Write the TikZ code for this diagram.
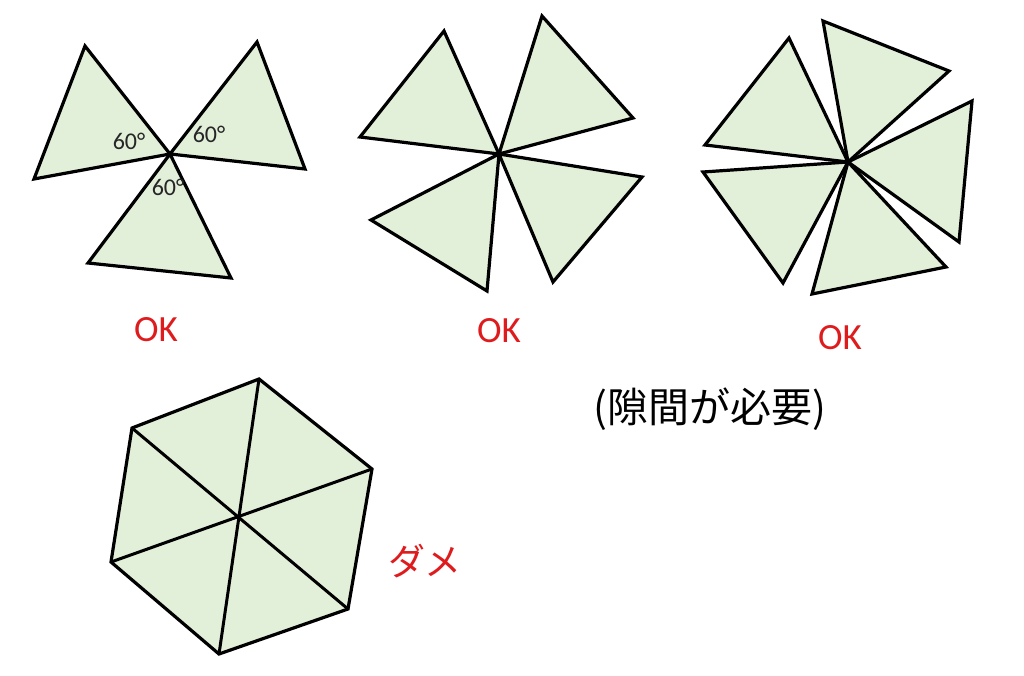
\documentclass[tikz,border=0pt]{standalone}
\usepackage{fontspec}
\setmainfont{Carlito}
\newfontfamily\jpfont{Noto Sans CJK JP}
\definecolor{tri}{HTML}{E2EFD9}
\definecolor{okred}{RGB}{222,28,30}
\begin{document}
\begin{tikzpicture}[x=1pt,y=-1pt,
  piece/.style={draw=black,fill=tri,line width=3.2pt,line join=miter},
  hexline/.style={draw=black,line width=3pt},
  oklabel/.style={text=okred,font=\fontsize{37}{40}\selectfont,inner sep=0pt},
  anglabel/.style={text=black!85,font=\fontsize{24}{26}\selectfont,inner sep=0pt}]
\useasboundingbox (0,0) rectangle (1024,676);
% ---- figure 1
\coordinate (c1) at (170,154);
\draw[piece] (c1) -- (85,46) -- (34,179) -- cycle;
\draw[piece] (c1) -- (257,42) -- (305,169) -- cycle;
\draw[piece] (c1) -- (231,278) -- (88,263) -- cycle;
\node[anglabel] (a1) at (129,141) {60°};
\node[anglabel] (a2) at (209,134) {60°};
\node[anglabel] (a3) at (168,187) {60°};
\node[oklabel] (ok1) at (156,330) {OK};
% ---- figure 2
\coordinate (c2) at (499,154);
\draw[piece] (c2) -- (444,31) -- (360,137) -- cycle;
\draw[piece] (c2) -- (542,16) -- (633,118) -- cycle;
\draw[piece] (c2) -- (642,177) -- (553,282) -- cycle;
\draw[piece] (c2) -- (487,291) -- (371,220) -- cycle;
\node[oklabel] (ok2) at (499,331) {OK};
% ---- figure 3
\coordinate (c3) at (848,162);
\draw[piece] (c3) -- (789,38) -- (705,145) -- cycle;
\draw[piece] (c3) -- (823,21) -- (949,71) -- cycle;
\draw[piece] (c3) -- (972,101) -- (959,242) -- cycle;
\draw[piece] (c3) -- (946,267) -- (812,294) -- cycle;
\draw[piece] (c3) -- (783,283) -- (703,172) -- cycle;
\node[oklabel] (ok3) at (840,338) {OK};
\node[inner sep=0pt,font=\jpfont\fontsize{41}{45}\selectfont] (gap) at (710,409) {(隙間が必要)};
% ---- hexagon
\coordinate (h0) at (238,520);
\coordinate (h1) at (259,379);
\coordinate (h2) at (372,469);
\coordinate (h3) at (348,609);
\coordinate (h4) at (219,654);
\coordinate (h5) at (111,562);
\coordinate (h6) at (132,428);
\draw[piece] (h1) -- (h2) -- (h3) -- (h4) -- (h5) -- (h6) -- cycle;
\draw[hexline] (h1) -- (h4);
\draw[hexline] (h2) -- (h5);
\draw[hexline] (h3) -- (h6);
\node[text=okred,inner sep=0pt,font=\jpfont\fontsize{37}{40}\selectfont] (dame) at (425,561) {ダメ};
\end{tikzpicture}
\end{document}
